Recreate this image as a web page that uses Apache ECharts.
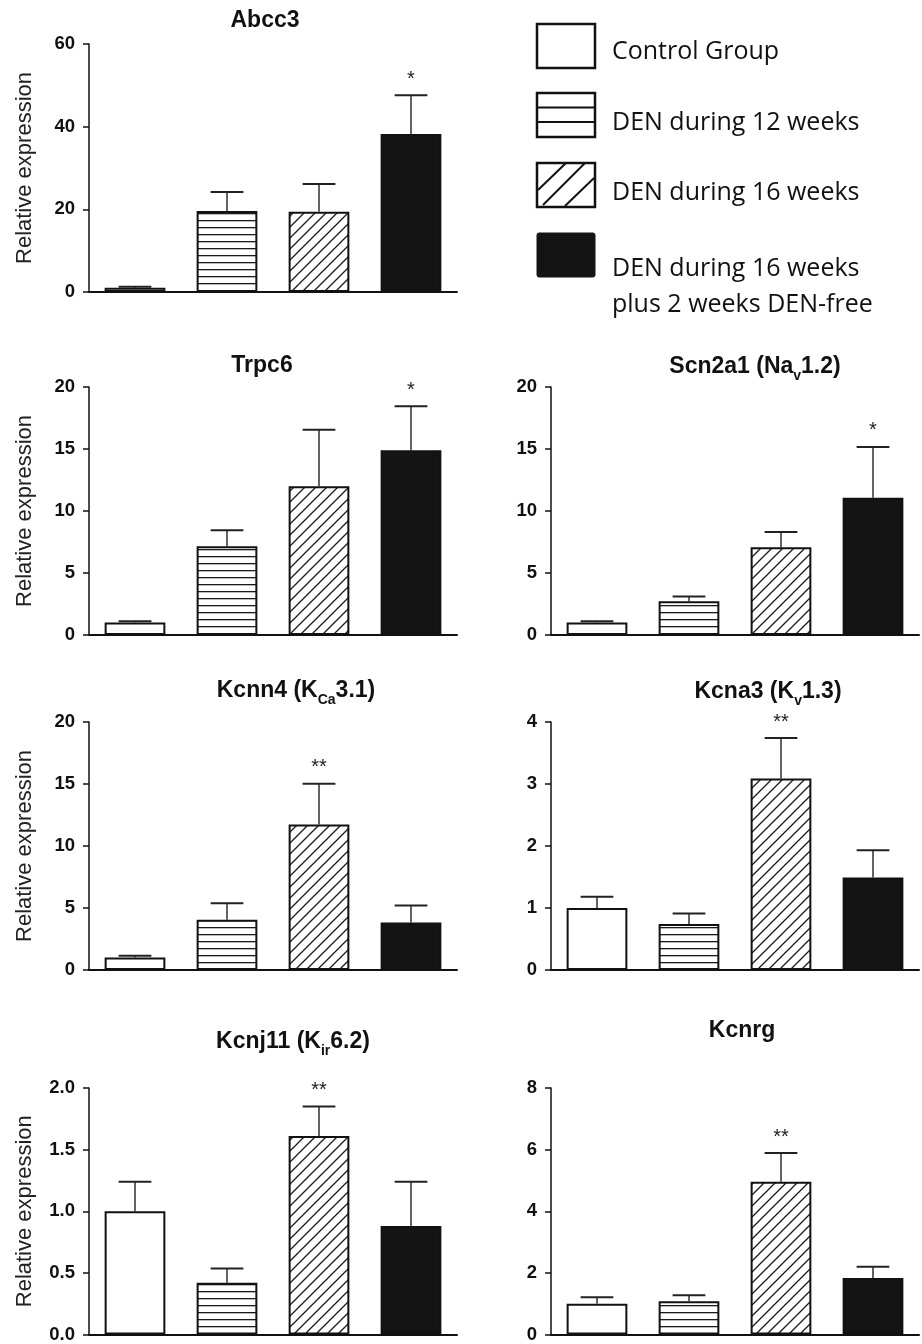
<!DOCTYPE html>
<html>
<head>
<meta charset="utf-8">
<style>
html,body{margin:0;padding:0;background:#fff;}
#chart{width:922px;height:1344px;}
</style>
<script src="https://cdn.jsdelivr.net/npm/echarts@6/dist/echarts.min.js"></script>
</head>
<body>
<div id="chart"></div>
<script>
// ---------- DATA ----------
const categories = ['Control Group', 'DEN during 12 weeks', 'DEN during 16 weeks', 'DEN during 16 weeks plus 2 weeks DEN-free'];

const abcc3Mean = [1.0, 19.6, 19.4, 38.2];
const abcc3Err  = [0.25, 4.6, 6.7, 9.4];
const abcc3Sig  = ['', '', '', '*'];
const abcc3Ticks = [0, 20, 40, 60];

const trpc6Mean = [1.0, 7.15, 12.0, 14.9];
const trpc6Err  = [0.1, 1.3, 4.55, 3.55];
const trpc6Sig  = ['', '', '', '*'];
const trpc6Ticks = [0, 5, 10, 15, 20];

const scn2a1Mean = [1.0, 2.72, 7.07, 11.06];
const scn2a1Err  = [0.1, 0.38, 1.24, 4.11];
const scn2a1Sig  = ['', '', '', '*'];
const scn2a1Ticks = [0, 5, 10, 15, 20];

const kcnn4Mean = [1.0, 4.05, 11.73, 3.84];
const kcnn4Err  = [0.15, 1.33, 3.3, 1.37];
const kcnn4Sig  = ['', '', '**', ''];
const kcnn4Ticks = [0, 5, 10, 15, 20];

const kcna3Mean = [1.0, 0.74, 3.09, 1.49];
const kcna3Err  = [0.18, 0.17, 0.65, 0.44];
const kcna3Sig  = ['', '', '**', ''];
const kcna3Ticks = [0, 1, 2, 3, 4];

const kcnj11Mean = [1.0, 0.42, 1.61, 0.88];
const kcnj11Err  = [0.24, 0.115, 0.24, 0.36];
const kcnj11Sig  = ['', '', '**', ''];
const kcnj11Ticks = [0.0, 0.5, 1.0, 1.5, 2.0];

const kcnrgMean = [1.0, 1.08, 4.96, 1.83];
const kcnrgErr  = [0.21, 0.19, 0.93, 0.37];
const kcnrgSig  = ['', '', '**', ''];
const kcnrgTicks = [0, 2, 4, 6, 8];

// ---------- PATTERNS ----------
function hPattern() {
  const c = document.createElement('canvas'); c.width = 4; c.height = 7;
  const g = c.getContext('2d');
  g.fillStyle = '#fff'; g.fillRect(0, 0, 4, 7);
  g.fillStyle = '#1a1a1a'; g.fillRect(0, 3, 4, 1.3);
  return c;
}
function dPattern() {
  const s = 11;
  const c = document.createElement('canvas'); c.width = s; c.height = s;
  const g = c.getContext('2d');
  g.fillStyle = '#fff'; g.fillRect(0, 0, s, s);
  g.strokeStyle = '#1a1a1a'; g.lineWidth = 1.3;
  g.beginPath();
  g.moveTo(-2, s + 2); g.lineTo(s + 2, -2);
  g.moveTo(-2, 2); g.lineTo(2, -2);
  g.moveTo(s - 2, s + 2); g.lineTo(s + 2, s - 2);
  g.stroke();
  return c;
}
const fills = ['#ffffff', {image: hPattern(), repeat: 'repeat'}, {image: dPattern(), repeat: 'repeat'}, '#141414'];

// ---------- LAYOUT ----------
const colLeft = [89, 551];
const rowTop = [44, 387, 722, 1088];
const gridW = 368, gridH = 248;

const panels = [
  {title: '{m|Abcc3}', mean: abcc3Mean, err: abcc3Err, sig: abcc3Sig, ticks: abcc3Ticks, col: 0, row: 0, tx: 265, ty: 22, yname: true},
  {title: '{m|Trpc6}', mean: trpc6Mean, err: trpc6Err, sig: trpc6Sig, ticks: trpc6Ticks, col: 0, row: 1, tx: 262, ty: 367, yname: true},
  {title: '{m|Scn2a1 (Na}{s|v}{m|1.2)}', mean: scn2a1Mean, err: scn2a1Err, sig: scn2a1Sig, ticks: scn2a1Ticks, col: 1, row: 1, tx: 755, ty: 368},
  {title: '{m|Kcnn4 (K}{s|Ca}{m|3.1)}', mean: kcnn4Mean, err: kcnn4Err, sig: kcnn4Sig, ticks: kcnn4Ticks, col: 0, row: 2, tx: 296, ty: 692, yname: true},
  {title: '{m|Kcna3 (K}{s|v}{m|1.3)}', mean: kcna3Mean, err: kcna3Err, sig: kcna3Sig, ticks: kcna3Ticks, col: 1, row: 2, tx: 768, ty: 693},
  {title: '{m|Kcnj11 (K}{s|ir}{m|6.2)}', mean: kcnj11Mean, err: kcnj11Err, sig: kcnj11Sig, ticks: kcnj11Ticks, col: 0, row: 3, tx: 293, ty: 1043, yname: true, dec: 1},
  {title: '{m|Kcnrg}', mean: kcnrgMean, err: kcnrgErr, sig: kcnrgSig, ticks: kcnrgTicks, col: 1, row: 3, tx: 742, ty: 1032}
];

const titleRich = {
  m: {fontFamily: '"Liberation Sans", Arial, sans-serif', fontWeight: 'bold', fontSize: 23, lineHeight: 26, color: '#111', verticalAlign: 'top'},
  s: {fontFamily: '"Liberation Sans", Arial, sans-serif', fontWeight: 'bold', fontSize: 14, lineHeight: 14, color: '#111', verticalAlign: 'top', padding: [14, 0, 0, 0]}
};

function makeRender(sig) {
  return function (params, api) {
    const i = api.value(0), m = api.value(1), e = api.value(2);
    const base = api.coord([i, m]);
    const top = api.coord([i, m + e]);
    const bw = api.size([1, 0])[0] * 0.66;
    const hw = bw * 0.27;
    const children = [
      {type: 'line', shape: {x1: base[0], y1: base[1], x2: top[0], y2: top[1]}, style: {stroke: '#222', lineWidth: 1.4}},
      {type: 'line', shape: {x1: top[0] - hw, y1: top[1], x2: top[0] + hw, y2: top[1]}, style: {stroke: '#222', lineWidth: 2}}
    ];
    const s = sig[params.dataIndex];
    if (s) {
      children.push({type: 'text', style: {text: s, x: top[0], y: top[1] - 6, align: 'center', verticalAlign: 'bottom',
        font: '20px "Liberation Sans", Arial, sans-serif', fill: '#222'}});
    }
    return {type: 'group', children: children};
  };
}

const grid = [], xAxis = [], yAxis = [], series = [], title = [];
panels.forEach((p, k) => {
  grid.push({left: colLeft[p.col], top: rowTop[p.row], width: gridW, height: gridH, containLabel: false});
  title.push({text: p.title, left: p.tx, top: p.ty - 13, textAlign: 'center', padding: 0, textStyle: {rich: titleRich}});
  xAxis.push({type: 'category', gridIndex: k, data: categories, boundaryGap: true,
    axisLine: {show: true, lineStyle: {color: '#111', width: 2}}, axisTick: {show: false}, axisLabel: {show: false}, splitLine: {show: false}});
  const t = p.ticks;
  yAxis.push({type: 'value', gridIndex: k, min: t[0], max: t[t.length - 1], interval: t[1] - t[0],
    name: p.yname ? 'Relative expression' : '', nameLocation: 'middle', nameRotate: 90, nameGap: 53,
    nameTextStyle: {fontFamily: '"Liberation Sans", Arial, sans-serif', fontSize: 22, color: '#222'},
    axisLine: {show: true, lineStyle: {color: '#111', width: 1.5}},
    axisTick: {show: true, inside: false, length: 6, lineStyle: {color: '#111', width: 1.5}},
    axisLabel: {margin: 14, fontFamily: '"Liberation Sans", Arial, sans-serif', fontWeight: 'bold', fontSize: 18.5, color: '#111',
      formatter: p.dec ? (v => v.toFixed(p.dec)) : (v => String(v))},
    splitLine: {show: false}});
  series.push({type: 'bar', xAxisIndex: k, yAxisIndex: k, barWidth: '66%', z: 2,
    data: p.mean.map((v, i) => ({value: v, itemStyle: {color: fills[i], borderColor: '#111', borderWidth: 2}}))});
  series.push({type: 'custom', xAxisIndex: k, yAxisIndex: k, z: 3, renderItem: makeRender(p.sig),
    data: p.mean.map((v, i) => [i, v, p.err[i]])});
});

// ---------- LEGEND (drawn) ----------
const lgX = 537, lgW = 58, lgH = 44;
const lgY = [24, 93, 163, 233];
const boxStyle = {stroke: '#111', lineWidth: 2.5};
const lgFont = '25px "Open Sans", "Noto Sans", sans-serif';
const graphic = [
  {type: 'rect', shape: {x: lgX, y: lgY[0], width: lgW, height: lgH}, style: Object.assign({fill: '#fff'}, boxStyle)},
  {type: 'rect', shape: {x: lgX, y: lgY[1], width: lgW, height: lgH}, style: Object.assign({fill: '#fff'}, boxStyle)},
  {type: 'line', shape: {x1: lgX, y1: lgY[1] + 14.5, x2: lgX + lgW, y2: lgY[1] + 14.5}, style: {stroke: '#111', lineWidth: 2}},
  {type: 'line', shape: {x1: lgX, y1: lgY[1] + 29, x2: lgX + lgW, y2: lgY[1] + 29}, style: {stroke: '#111', lineWidth: 2}},
  {type: 'rect', shape: {x: lgX, y: lgY[2], width: lgW, height: lgH}, style: Object.assign({fill: '#fff'}, boxStyle)},
  {type: 'line', shape: {x1: lgX + 1, y1: lgY[2] + 27, x2: lgX + 29, y2: lgY[2]}, style: {stroke: '#111', lineWidth: 2}},
  {type: 'line', shape: {x1: lgX + 6, y1: lgY[2] + 42, x2: lgX + 48, y2: lgY[2]}, style: {stroke: '#111', lineWidth: 2}},
  {type: 'line', shape: {x1: lgX + 28, y1: lgY[2] + 43, x2: lgX + 57, y2: lgY[2] + 15}, style: {stroke: '#111', lineWidth: 2}},
  {type: 'rect', shape: {x: lgX, y: lgY[3], width: lgW, height: lgH, r: 2}, style: {fill: '#141414', stroke: '#141414', lineWidth: 1}},
  {type: 'text', style: {text: 'Control Group', x: 612, y: 52, verticalAlign: 'middle', font: lgFont, fill: '#111'}},
  {type: 'text', style: {text: 'DEN during 12 weeks', x: 612, y: 123, verticalAlign: 'middle', font: lgFont, fill: '#111'}},
  {type: 'text', style: {text: 'DEN during 16 weeks', x: 612, y: 193, verticalAlign: 'middle', font: lgFont, fill: '#111'}},
  {type: 'text', style: {text: 'DEN during 16 weeks', x: 612, y: 269, verticalAlign: 'middle', font: lgFont, fill: '#111'}},
  {type: 'text', style: {text: 'plus 2 weeks DEN-free', x: 612, y: 305, verticalAlign: 'middle', font: lgFont, fill: '#111'}}
];

const chart = echarts.init(document.getElementById('chart'), null, {renderer: 'canvas'});
chart.setOption({animation: false, backgroundColor: '#fff', title, grid, xAxis, yAxis, series, graphic});
</script>
</body>
</html>
